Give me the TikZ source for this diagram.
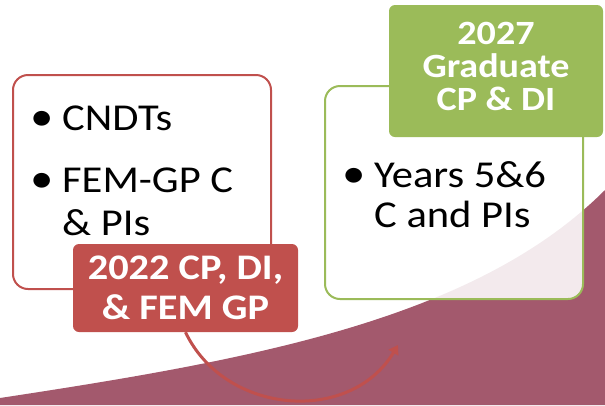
\documentclass[tikz,border=0pt]{standalone}
\usepackage{fontspec}
\setmainfont{Carlito}[FakeStretch=1.12]
\newfontfamily\tagfont{Carlito}[FakeStretch=1.12]
\usetikzlibrary{arrows.meta}
\definecolor{redbox}{HTML}{C0504D}
\definecolor{greenbox}{HTML}{9BBB59}
\definecolor{wave}{HTML}{A3596D}
\begin{document}
\begin{tikzpicture}[x=1pt,y=-1pt,
    frame/.style={draw,line width=2pt,rounded corners=15pt,minimum width=258pt,inner sep=0pt},
    tag/.style={rounded corners=6pt,text=white,inner sep=0pt,align=center},
    body/.style={anchor=base west,inner sep=0pt,align=left,font=\fontsize{38}{43}\selectfont}]
    \def\bul{\makebox[27pt][l]{\hspace*{-5pt}\scalebox{1.1}{•}}} % puce
    \useasboundingbox (0,0) rectangle (605,405);
    \fill[wave] (0,398) .. controls (250,360) and (475,320) .. (605,190) -- (605,405) -- (0,405) -- cycle;
    \node[frame,greenbox,fill=white,fill opacity=0.88,minimum height=213pt] (gradbox) at (454,192.5) {};
    \node[frame,redbox,minimum height=214pt] (cndtbox) at (142,182) {};
    \node[tag,fill=redbox,minimum width=225pt,minimum height=88pt,font=\tagfont\bfseries\fontsize{36}{40}\selectfont] (lbl2022) at (185.5,288) {2022 CP, DI,\\\& FEM GP};
    \node[tag,fill=greenbox,minimum width=214pt,minimum height=132pt,text depth=9pt,font=\tagfont\bfseries\fontsize{34}{33}\selectfont] (lbl2027) at (496,71) {2027\\Graduate\\CP \& DI};
    \coordinate (tip) at (398,345);
    \draw[redbox,line width=3pt,-{Triangle[length=9pt,width=11pt]}] (lbl2022.south) .. controls (225,415) and (350,425) .. (tip);
    % base = derniere ligne
    \node[body] (cndt) at (35,130) {\bul CNDTs};
    \node[body] (femgp) at (35,235) {\bul FEM-GP C\\\hspace*{27pt}\& PIs};
    \node[body,font=\fontsize{38}{40}\selectfont] (years) at (347,227) {\bul Years 5\&6\\\hspace*{27pt}C and PIs};
\end{tikzpicture}
\end{document}
